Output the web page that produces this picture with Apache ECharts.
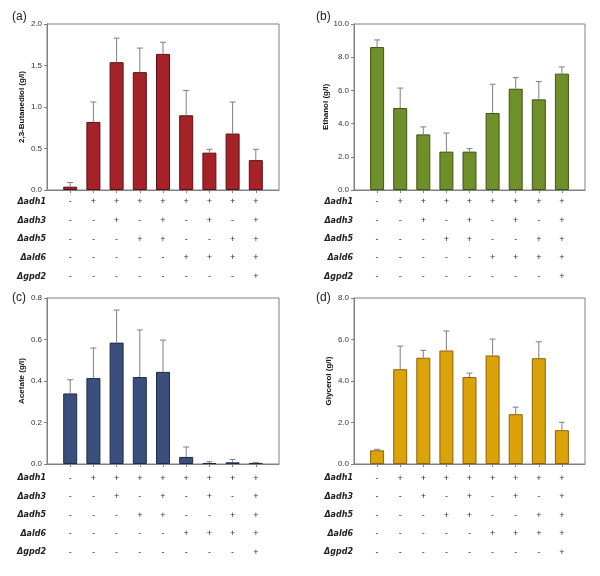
<!DOCTYPE html>
<html>
<head>
<meta charset="utf-8">
<script src="https://cdn.jsdelivr.net/npm/echarts@6/dist/echarts.min.js"></script>
<style>html,body{margin:0;padding:0;background:#fff}#c{width:600px;height:576px}</style>
</head>
<body>
<div id="c"></div>
<script>
// ---- data ----
const strains = [1, 2, 3, 4, 5, 6, 7, 8, 9];
const genes = ['Δadh1', 'Δadh3', 'Δadh5', 'Δald6', 'Δgpd2'];
const adh1 = ['-', '+', '+', '+', '+', '+', '+', '+', '+'];
const adh3 = ['-', '-', '+', '-', '+', '-', '+', '-', '+'];
const adh5 = ['-', '-', '-', '+', '+', '-', '-', '+', '+'];
const ald6 = ['-', '-', '-', '-', '-', '+', '+', '+', '+'];
const gpd2 = ['-', '-', '-', '-', '-', '-', '-', '-', '+'];
const genotype = [adh1, adh3, adh5, ald6, gpd2];

const butanediol = [0.04, 0.82, 1.54, 1.42, 1.64, 0.90, 0.45, 0.68, 0.36];
const butanediolErr = [0.05, 0.24, 0.29, 0.29, 0.14, 0.30, 0.04, 0.38, 0.13];
const ethanol = [8.61, 4.94, 3.35, 2.31, 2.31, 4.64, 6.10, 5.46, 7.01];
const ethanolErr = [0.43, 1.20, 0.45, 1.12, 0.18, 1.73, 0.67, 1.07, 0.40];
const acetate = [0.340, 0.414, 0.585, 0.419, 0.444, 0.034, 0.005, 0.008, 0.005];
const acetateErr = [0.066, 0.145, 0.157, 0.227, 0.153, 0.048, 0.006, 0.014, 0.003];
const glycerol = [0.66, 4.57, 5.12, 5.47, 4.19, 5.23, 2.40, 5.10, 1.63];
const glycerolErr = [0.05, 1.11, 0.36, 0.94, 0.19, 0.79, 0.34, 0.79, 0.38];

const panelLabels = ['(a)', '(b)', '(c)', '(d)'];
const yNames = ['2,3-Butanediol (g/l)', 'Ethanol (g/l)', 'Acetate (g/l)', 'Glycerol (g/l)'];
const yMax = [2.0, 10.0, 0.8, 8.0];
const yInterval = [0.5, 2.0, 0.2, 2.0];
const values = [butanediol, ethanol, acetate, glycerol];
const errors = [butanediolErr, ethanolErr, acetateErr, glycerolErr];
const fills = ['#A52228', '#6F8F2A', '#3B4F7D', '#DBA20A'];
const strokes = ['#5A1012', '#3D5512', '#1F2A45', '#8A6408'];

// ---- layout ----
const panels = [
  {left: 47, top: 24, width: 232, height: 166, tTop: 192.6, tH: 93.4, lx: 12, ly: 11},
  {left: 354, top: 24, width: 231, height: 166, tTop: 192.6, tH: 93.4, lx: 316, ly: 11},
  {left: 47, top: 298, width: 232, height: 166, tTop: 469, tH: 92.5, lx: 12, ly: 292},
  {left: 354, top: 298, width: 231, height: 166, tTop: 469, tH: 92.5, lx: 316, ly: 292}
];

const grids = [], xAxes = [], yAxes = [], series = [], titles = [];
const gray = '#808080';

panels.forEach((p, k) => {
  const gi = k * 2, ti = k * 2 + 1;
  grids.push({left: p.left, top: p.top, width: p.width, height: p.height,
    show: true, borderColor: gray, borderWidth: 1, containLabel: false});
  grids.push({left: p.left, top: p.tTop, width: p.width, height: p.tH, show: false, containLabel: false});

  xAxes.push({gridIndex: gi, type: 'value', min: 0, max: 10, interval: 1,
    axisLine: {show: true, lineStyle: {color: gray}},
    axisTick: {show: true, length: 3, lineStyle: {color: gray}, customValues: strains},
    axisLabel: {show: false}, splitLine: {show: false}});
  xAxes.push({gridIndex: ti, type: 'value', min: 0, max: 10, show: false});

  yAxes.push({gridIndex: gi, type: 'value', min: 0, max: yMax[k], interval: yInterval[k],
    name: yNames[k], nameLocation: 'middle', nameGap: 21,
    nameTextStyle: {fontFamily: 'Liberation Sans', fontWeight: 'bold', fontSize: 8, color: '#111'},
    axisLine: {show: true, lineStyle: {color: gray}},
    axisTick: {show: true, length: 3, lineStyle: {color: gray}},
    axisLabel: {fontFamily: 'Liberation Sans', fontSize: 8, color: '#333', margin: 5,
      formatter: v => v.toFixed(1)},
    splitLine: {show: false}});
  yAxes.push({gridIndex: ti, type: 'category', data: genes, inverse: true,
    axisLine: {show: false}, axisTick: {show: false},
    axisLabel: {fontFamily: 'DejaVu Sans', fontWeight: 'bold', fontStyle: 'italic',
      fontSize: 8, color: '#222', margin: 1}});

  series.push({type: 'bar', xAxisIndex: gi, yAxisIndex: gi, barWidth: 14,
    data: strains.map((s, i) => [s, values[k][i]]),
    itemStyle: {color: fills[k], borderColor: strokes[k], borderWidth: 1},
    z: 2});

  series.push({type: 'custom', xAxisIndex: gi, yAxisIndex: gi, z: 3,
    data: strains.map((s, i) => [s, values[k][i], values[k][i] + errors[k][i]]),
    renderItem: (params, api) => {
      const x = api.value(0);
      const lo = api.coord([x, api.value(1)]);
      const hi = api.coord([x, api.value(2)]);
      const st = {stroke: '#7F7F7F', lineWidth: 1};
      return {type: 'group', children: [
        {type: 'line', shape: {x1: lo[0], y1: lo[1], x2: hi[0], y2: hi[1]}, style: st},
        {type: 'line', shape: {x1: hi[0] - 3, y1: hi[1], x2: hi[0] + 3, y2: hi[1]}, style: st}
      ]};
    }});

  const tdata = [];
  genotype.forEach((row, r) => row.forEach((sgn, i) => tdata.push([strains[i], r, sgn])));
  series.push({type: 'custom', xAxisIndex: ti, yAxisIndex: ti,
    data: tdata,
    renderItem: (params, api) => {
      const c = api.coord([api.value(0), api.value(1)]);
      const sgn = tdata[params.dataIndex][2];
      return {type: 'text', x: c[0], y: c[1],
        style: {text: sgn, fill: '#333', font: '9px "Liberation Sans"',
          align: 'center', verticalAlign: 'middle'}};
    }});

  titles.push({text: panelLabels[k], left: p.lx, top: p.ly, padding: 0,
    textStyle: {fontFamily: 'Liberation Sans', fontSize: 12, fontWeight: 'normal', color: '#222'}});
});

const chart = echarts.init(document.getElementById('c'), null, {renderer: 'canvas'});
chart.setOption({
  animation: false,
  backgroundColor: '#fff',
  title: titles,
  grid: grids,
  xAxis: xAxes,
  yAxis: yAxes,
  series: series
});
</script>
</body>
</html>
